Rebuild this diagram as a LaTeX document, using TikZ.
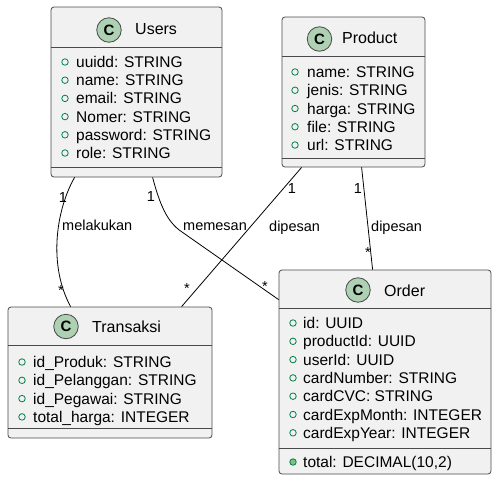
\documentclass[tikz,border=0pt]{standalone}
\usepackage{fontspec}
\setmainfont{Liberation Sans}
\usetikzlibrary{calc}
\definecolor{boxfill}{HTML}{F1F1F1}
\definecolor{boxline}{HTML}{4A4A4A}
\definecolor{cfill}{HTML}{ADD1B2}
\definecolor{attrgreen}{HTML}{038048}
\definecolor{attrfill}{HTML}{84BE84}
\begin{document}
\begin{tikzpicture}[x=1pt,y=-1pt,
  classbox/.style={draw=boxline,fill=boxfill,rounded corners=3pt,line width=0.8pt,inner sep=0pt,minimum width=#1},
  sepline/.style={draw=boxline,line width=0.8pt},
  badge/.style={circle,draw=boxline,fill=cfill,line width=0.8pt,minimum size=24.5pt,inner sep=0pt,font=\fontsize{15}{15}\selectfont\bfseries},
  title/.style={anchor=base west,inner sep=0pt,font=\fontsize{16}{18}\selectfont},
  attr/.style={anchor=base west,inner sep=0pt,font=\fontsize{15.5}{18}\selectfont},
  dot/.style={circle,draw=attrgreen,line width=0.8pt,minimum size=6.5pt,inner sep=0pt},
  fdot/.style={dot,fill=attrfill},
  lbl/.style={anchor=base west,inner sep=0pt,font=\fontsize{14.5}{16}\selectfont},
  mult/.style={anchor=base,inner sep=0pt,font=\fontsize{14.5}{16}\selectfont},
  link/.style={draw=black,line width=0.8pt}]
\useasboundingbox (0,0) rectangle (498,483);
\fill[white] (0,0) rectangle (498,483);

% ---------- Users ----------
\node[classbox=171pt,minimum height=170pt] (users) at (136.5,92) {};
\draw[sepline] (51,47) -- (222,47);
\draw[sepline] (51,167) -- (222,167);
\node[badge] (usersC) at (109,30) {C};
\node[title] (usersT) at (135,34.5) {Users};
\foreach \t [count=\i from 0] in {uuidd: STRING,name: STRING,email: STRING,Nomer: STRING,password: STRING,role: STRING}{
  \node[dot] (ud\i) at (65,{62+18.2*\i}) {};
  \node[attr] (ua\i) at (76,{67.5+18.2*\i}) {\t};
}

% ---------- Product ----------
\node[classbox=143pt,minimum height=150pt] (product) at (353.5,92) {};
\draw[sepline] (282,56) -- (425,56);
\draw[sepline] (282,158) -- (425,158);
\node[badge] (productC) at (319.5,39) {C};
\node[title] (productT) at (342,43.5) {Product};
\foreach \t [count=\i from 0] in {name: STRING,jenis: STRING,harga: STRING,file: STRING,url: STRING}{
  \node[dot] (pd\i) at (295,{72+18.25*\i}) {};
  \node[attr] (pa\i) at (307,{77.5+18.25*\i}) {\t};
}

% ---------- Order ----------
\node[classbox=212pt,minimum height=204pt] (order) at (385,372) {};
\draw[sepline] (279,308) -- (491,308);
\draw[sepline] (279,448) -- (491,448);
\node[badge] (orderC) at (358,290) {C};
\node[title] (orderT) at (384,296) {Order};
\foreach \t [count=\i from 0] in {id: UUID,productId: UUID,userId: UUID,cardNumber: STRING,cardCVC: STRING,cardExpMonth: INTEGER,cardExpYear: INTEGER}{
  \node[dot] (od\i) at (293,{323+18.3*\i}) {};
  \node[attr] (oa\i) at (303,{328.5+18.3*\i}) {\t};
}
\node[fdot] (odm) at (293,462) {};
\node[attr] (oam) at (303,467.5) {total: DECIMAL(10,2)};

% ---------- Transaksi ----------
\node[classbox=204pt,minimum height=131pt] (trans) at (110,372.5) {};
\draw[sepline] (8,345) -- (212,345);
\draw[sepline] (8,428) -- (212,428);
\node[badge] (transC) at (66,326.5) {C};
\node[title] (transT) at (92,332) {Transaksi};
\foreach \t [count=\i from 0] in {id\_Produk: STRING,id\_Pelanggan: STRING,id\_Pegawai: STRING,total\_harga: INTEGER}{
  \node[dot] (td\i) at (22,{362+18.3*\i}) {};
  \node[attr] (ta\i) at (33,{367.5+18.3*\i}) {\t};
}

% ---------- connector end points ----------
\coordinate (l1a) at ($(users.south west)+(24,0)$);
\coordinate (l1b) at ($(trans.north west)+(63,0)$);
\coordinate (l2a) at ($(users.south west)+(102,0)$);
\coordinate (l2m) at (182,232);
\coordinate (l2b) at ($(order.north west)+(0,30)$);
\coordinate (l3a) at ($(product.south west)+(20,0)$);
\coordinate (l3b) at ($(trans.north west)+(174,0)$);
\coordinate (l4a) at ($(product.south west)+(80,0)$);
\coordinate (l4b) at ($(order.north west)+(94,0)$);

% ---------- connectors ----------
\draw[link] (l1a) .. controls (56,210) and (48,265) .. (l1b);
\draw[link] (l2a) .. controls (160,205) and (167,222) .. (l2m) -- (l2b);
\draw[link] (l3a) -- (l3b);
\draw[link] (l4a) -- (l4b);

% ---------- labels ----------
\node[lbl] (m1) at (62,230.5) {melakukan};
\node[lbl] (m2) at (183,230.5) {memesan};
\node[lbl] (m3) at (269,231) {dipesan};
\node[lbl] (m4) at (371,231) {dipesan};

\node[mult] (c1a) at (63,202) {1};
\node[mult] (c2a) at (151,201) {1};
\node[mult] (c3a) at (292,193) {1};
\node[mult] (c4a) at (358,193) {1};
\node[mult] (c1b) at (61,295) {*};
\node[mult] (c2b) at (265,291) {*};
\node[mult] (c3b) at (187,293) {*};
\node[mult] (c4b) at (368,257) {*};
\end{tikzpicture}
\end{document}
